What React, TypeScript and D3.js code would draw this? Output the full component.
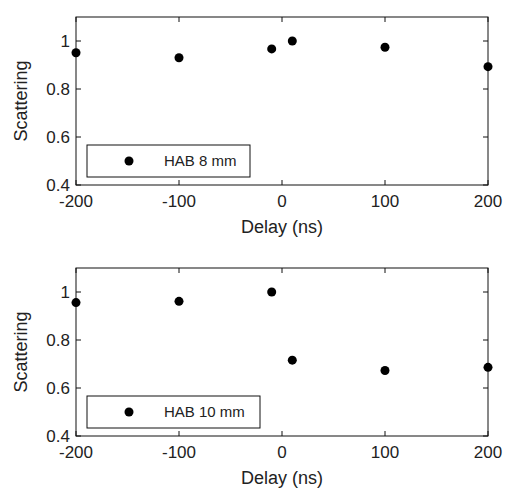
import React from "react";
import * as d3 from "d3";

const delays = [-200, -100, -10, 10, 100, 200];
const hab8 = [0.951, 0.93, 0.967, 1.0, 0.974, 0.893];
const hab10 = [0.956, 0.961, 1.0, 0.716, 0.673, 0.686];
const xTicks = [-200, -100, 0, 100, 200];
const yTicks = [0.4, 0.6, 0.8, 1];
const panels = [
  { label: "HAB 8 mm", values: hab8, top: 17, legendW: 163 },
  { label: "HAB 10 mm", values: hab10, top: 268, legendW: 173 },
];

const W = 505;
const H = 488;
const left = 76;
const right = 488;
const plotH = 168;
const font = "Liberation Sans, Arial, Helvetica, sans-serif";

function Panel({ label, values, top, legendW }: { label: string; values: number[]; top: number; legendW: number }) {
  const x = d3.scaleLinear().domain([-200, 200]).range([left, right]);
  const y = d3.scaleLinear().domain([0.4, 1.1]).range([top + plotH, top]);
  const bottom = top + plotH;
  const tl = 5;
  return (
    <g>
      <rect x={left} y={top} width={right - left} height={plotH} fill="white" stroke="#111" strokeWidth={1} />
      {xTicks.map((t) => (
        <g key={"x" + t}>
          <line x1={x(t)} x2={x(t)} y1={bottom} y2={bottom - tl} stroke="#111" />
          <line x1={x(t)} x2={x(t)} y1={top} y2={top + tl} stroke="#111" />
          <text x={x(t)} y={bottom + 22} textAnchor="middle" fontSize={17} fontFamily={font} fill="#222">
            {t}
          </text>
        </g>
      ))}
      {yTicks.map((t) => (
        <g key={"y" + t}>
          <line x1={left} x2={left + tl} y1={y(t)} y2={y(t)} stroke="#111" />
          <line x1={right} x2={right - tl} y1={y(t)} y2={y(t)} stroke="#111" />
          <text x={70} y={y(t) + 6} textAnchor="end" fontSize={17} fontFamily={font} fill="#222">
            {String(t)}
          </text>
        </g>
      ))}
      <text x={(left + right) / 2} y={bottom + 48} textAnchor="middle" fontSize={18} fontFamily={font} fill="#222">
        Delay (ns)
      </text>
      <text
        transform={`translate(27,${(top + bottom) / 2}) rotate(-90)`}
        textAnchor="middle"
        fontSize={18}
        fontFamily={font}
        fill="#222"
      >
        Scattering
      </text>
      <rect x={87} y={bottom - 40} width={legendW} height={32} fill="white" stroke="#111" strokeWidth={1} />
      <circle cx={129} cy={bottom - 24} r={4.5} fill="black" />
      <text x={164} y={bottom - 19} fontSize={15} fontFamily={font} fill="#222">
        {label}
      </text>
      {delays.map((d, i) => (
        <circle key={i} cx={x(d)} cy={y(values[i])} r={4.5} fill="black" />
      ))}
    </g>
  );
}

export default function App() {
  return (
    <svg width={W} height={H} style={{ position: "absolute", left: 0, top: 0, background: "white" }}>
      <rect width={W} height={H} fill="white" />
      {panels.map((p) => (
        <Panel key={p.label} {...p} />
      ))}
    </svg>
  );
}
